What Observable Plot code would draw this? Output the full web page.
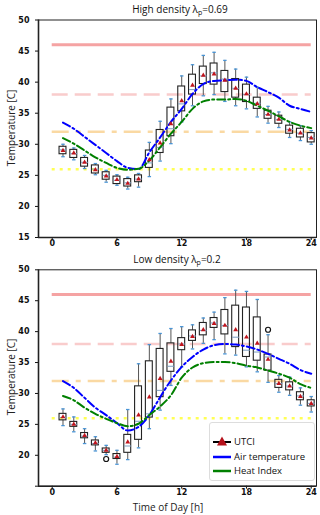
<!DOCTYPE html>
<html><head><meta charset="utf-8">
<script src="https://cdn.jsdelivr.net/npm/d3@7"></script>
<script src="https://cdn.jsdelivr.net/npm/@observablehq/plot@0.6"></script>
<style>
body{margin:0;background:#fff;font-family:"Open Sans",sans-serif}
#wrap{position:relative;width:320px;height:515px;overflow:hidden;background:#fff}
.panel{position:absolute;left:0}
.panel svg{overflow:visible}
.title{position:absolute;font-size:10px;color:#111;white-space:nowrap;transform:translate(-50%,-50%)}
.title sub{font-size:7px;vertical-align:-2px}
.ylab{position:absolute;font-size:10px;color:#222;white-space:nowrap;transform:translate(-50%,-50%) rotate(-90deg)}
.xlab{position:absolute;font-size:10px;color:#222;white-space:nowrap;transform:translate(-50%,-50%)}
#legend{position:absolute;left:209px;top:422px;width:104px;height:57px;border:1px solid #ddd;border-radius:3px;background:#fff;font-size:9.5px;color:#111}
.li{position:absolute;left:0;height:14px;line-height:14px}
.li svg{position:absolute;left:2px;top:0}
.li span{position:absolute;left:24px;white-space:nowrap}
</style>
</head><body>
<div id="wrap">
  <div class="panel" id="p1" style="top:0"></div>
  <div class="panel" id="p2" style="top:250px"></div>
  <div class="title" style="left:180px;top:9px">High density λ<sub>p</sub>=0.69</div>
  <div class="title" style="left:177px;top:259px">Low density λ<sub>p</sub>=0.2</div>
  <div class="ylab" style="left:11px;top:128px">Temperature [C]</div>
  <div class="ylab" style="left:11px;top:377px">Temperature [C]</div>
  <div class="xlab" style="left:168px;top:507px">Time of Day [h]</div>
  <div id="legend">
    <div class="li" style="top:12px"><svg width="20" height="14"><line x1="1" y1="7" x2="19" y2="7" stroke="#000" stroke-width="2"/><path d="M10,1.5 L15,10.5 L5,10.5 Z" fill="#b5121b"/></svg><span>UTCI</span></div>
    <div class="li" style="top:27px"><svg width="20" height="14"><line x1="1" y1="7" x2="19" y2="7" stroke="#0000ff" stroke-width="2.5"/></svg><span>Air temperature</span></div>
    <div class="li" style="top:41px"><svg width="20" height="14"><line x1="1" y1="7" x2="19" y2="7" stroke="#008000" stroke-width="2.5"/></svg><span>Heat Index</span></div>
  </div>
</div>
<script>
// ---- data ----
const hours = [1,2,3,4,5,6,7,8,9,10,11,12,13,14,15,16,17,18,19,20,21,22,23,24];
const xTicks = [0,6,12,18,24];
const yTicks = [15,20,25,30,35,40,45,50];
const refLevels = [46,38,32,26];

// High density
const hiQ1   = [28.4,27.8,26.4,25.3,24.3,23.6,23.2,23.9,26.2,28.6,31.3,35.3,38.0,39.7,39.6,38.4,37.5,36.8,35.7,34.1,33.3,31.7,31.1,30.3];
const hiQ3   = [29.6,29.1,27.8,26.6,25.5,24.8,24.4,25.0,29.0,32.3,35.9,39.3,41.2,42.5,43.0,41.8,40.5,39.6,37.5,35.4,34.6,33.0,32.5,31.8];
const hiLo   = [28.0,27.5,26.1,25.1,23.9,23.4,22.8,23.1,24.8,27.3,30.1,33.6,36.2,37.8,38.0,36.9,36.2,35.7,34.4,33.4,32.7,31.1,30.6,30.0];
const hiHi   = [30.0,29.4,28.2,26.9,25.8,25.1,24.7,25.3,30.3,33.7,37.3,41.0,42.8,44.3,44.8,43.5,42.1,40.8,39.2,36.1,35.2,33.6,33.0,32.2];
const hiMed  = [29.1,28.5,27.1,26.0,25.0,24.2,23.8,24.4,27.0,29.5,32.5,36.5,38.8,41.0,41.5,40.5,39.0,38.0,36.6,34.8,34.0,32.4,31.8,31.1];
const hiMean = [29.0,28.6,27.1,25.9,24.9,24.3,23.7,24.4,27.5,30.2,33.3,37.0,39.5,41.1,41.3,40.3,39.0,38.1,36.5,34.8,34.0,32.3,31.8,31.0];
const hiAir  = [33.5,32.5,31.2,29.9,28.6,27.3,26.2,26.0,28.7,31.1,33.6,35.7,38.1,39.7,40.2,40.3,40.4,40.2,39.2,38.4,37.5,36.2,35.7,35.2];
const hiHeat = [31.0,30.1,29.0,27.9,27.0,26.2,25.9,26.05,27.4,29.5,31.7,33.6,35.7,36.9,37.2,37.2,37.3,37.0,36.2,35.4,34.5,33.6,33.0,32.6];
const hiOutH = [];
const hiOutV = [];

// Low density
const loQ1   = [25.65,24.6,22.75,21.6,20.4,19.4,20.4,22.5,26.1,29.4,33.5,37.0,38.5,39.4,40.6,39.55,37.5,35.9,35.3,33.7,30.9,30.5,28.9,27.9];
const loQ3   = [26.7,25.4,23.6,22.4,21.1,20.2,23.3,31.15,35.2,37.2,38.1,38.95,40.2,41.4,42.2,43.5,44.2,43.9,42.3,36.3,32.2,31.8,30.2,28.9];
const loLo   = [24.8,23.8,21.9,20.7,20.1,18.55,19.3,21.2,24.3,27.3,31.3,34.3,37.2,38.1,38.7,36.4,36.2,34.3,33.5,31.8,30.2,29.7,28.1,27.0];
const loHi   = [27.5,26.2,24.3,23.0,21.6,20.8,27.4,34.8,37.9,39.7,40.5,40.8,41.1,42.2,43.15,45.5,46.7,46.5,45.2,39.5,32.9,32.65,30.9,29.5];
const loMed  = [26.1,25.0,23.1,21.9,20.8,19.7,21.5,25.5,26.7,30.5,34.4,38.0,39.3,40.2,41.4,41.0,39.1,37.0,36.7,35.9,31.6,31.2,29.6,28.4];
const loMean = [26.2,25.0,23.2,22.0,20.8,19.8,22.15,26.5,29.4,32.4,35.2,37.9,39.2,40.3,41.3,41.0,40.3,39.1,38.1,35.5,31.6,31.2,29.5,28.35];
const loAir  = [32.0,30.9,29.3,27.7,26.5,25.2,24.0,24.6,26.5,29.4,32.1,34.3,35.9,37.1,37.8,38.0,37.9,37.6,37.1,36.4,35.6,34.8,33.8,33.2];
const loHeat = [29.6,28.9,27.7,26.7,25.9,25.2,24.7,25.1,26.5,27.9,29.7,32.55,34.2,34.9,35.1,35.1,34.9,34.5,34.2,33.7,33.2,32.55,31.5,30.9];
const loOutH = [5,20];
const loOutV = [19.4,40.3];

// ---- drawing ----
const refStyles = [
  {stroke:"#f5a3a3", strokeWidth:3, strokeDasharray:null},
  {stroke:"#f9cccc", strokeWidth:2.5, strokeDasharray:"16,7"},
  {stroke:"#fad9a3", strokeWidth:2.5, strokeDasharray:"17,7,5,7"},
  {stroke:"#ffff55", strokeWidth:2.5, strokeDasharray:"3,5"}
];

function panel(q1,q3,lo,hi,med,mean,air,heat,outH,outV,height,mt,mb,hide15){
  const rows = hours.map((h,i)=>({h,q1:q1[i],q3:q3[i],lo:lo[i],hi:hi[i],med:med[i],mean:mean[i],air:air[i],heat:heat[i]}));
  const outs = outH.map((h,i)=>({h,v:outV[i]}));
  const xs = d3.extent(xTicks);
  const hw = 0.32, cw = 0.16;
  const marks = [];
  refLevels.forEach((lv,i)=>{
    const s = refStyles[i];
    marks.push(Plot.ruleY([lv],{x1:xs[0],x2:xs[1],stroke:s.stroke,strokeWidth:s.strokeWidth,strokeDasharray:s.strokeDasharray}));
  });
  marks.push(
    Plot.ruleX(rows,{x:"h",y1:"lo",y2:"q1",stroke:"#555",strokeWidth:1}),
    Plot.ruleX(rows,{x:"h",y1:"q3",y2:"hi",stroke:"#555",strokeWidth:1}),
    Plot.link(rows,{x1:d=>d.h-cw,x2:d=>d.h+cw,y1:"hi",y2:"hi",stroke:"#4a95d6",strokeWidth:1.3}),
    Plot.link(rows,{x1:d=>d.h-cw,x2:d=>d.h+cw,y1:"lo",y2:"lo",stroke:"#4a95d6",strokeWidth:1.3}),
    Plot.rect(rows,{x1:d=>d.h-hw,x2:d=>d.h+hw,y1:"q1",y2:"q3",fill:"none",stroke:"#222",strokeWidth:1.1}),
    Plot.link(rows,{x1:d=>d.h-hw,x2:d=>d.h+hw,y1:"med",y2:"med",stroke:"#7a9cc0",strokeWidth:1}),
    Plot.line(rows,{x:"h",y:"air",stroke:"#0000ff",strokeWidth:2,strokeDasharray:"8,3,2,3",curve:"monotone-x"}),
    Plot.line(rows,{x:"h",y:"heat",stroke:"#008000",strokeWidth:2,strokeDasharray:"8,3,2,3",curve:"monotone-x"}),
    Plot.dot(rows,{x:"h",y:"mean",symbol:"triangle",r:1.8,fill:"#c0141c",stroke:"none"}),
    Plot.dot(outs,{x:"h",y:"v",r:2.5,fill:"none",stroke:"#111",strokeWidth:1.2}),
    Plot.frame({stroke:"#222",strokeWidth:1}),
    Plot.ruleX([-1.27],{stroke:"#222",strokeWidth:1.6}),
    Plot.ruleY([15],{stroke:"#222",strokeWidth:1.6})
  );
  return Plot.plot({
    width:320, height, marginLeft:38, marginRight:4, marginTop:mt, marginBottom:mb,
    x:{domain:[-1.27,24.49], ticks:xTicks, tickSize:3, tickPadding:0, label:null},
    y:{domain:[15,50], ticks:yTicks, tickSize:3, label:null, tickFormat:d=> (hide15 && d===15) ? "" : String(d)},
    style:{fontSize:"8px", fontWeight:"bold", fontFamily:"DejaVu Sans", color:"#111", background:"transparent"},
    marks
  });
}

document.getElementById("p1").appendChild(panel(hiQ1,hiQ3,hiLo,hiHi,hiMed,hiMean,hiAir,hiHeat,hiOutH,hiOutV,250,19.5,13,false));
document.getElementById("p2").appendChild(panel(loQ1,loQ3,loLo,loHi,loMed,loMean,loAir,loHeat,loOutH,loOutV,265,19.3,29.3,true));
</script>
</body></html>
